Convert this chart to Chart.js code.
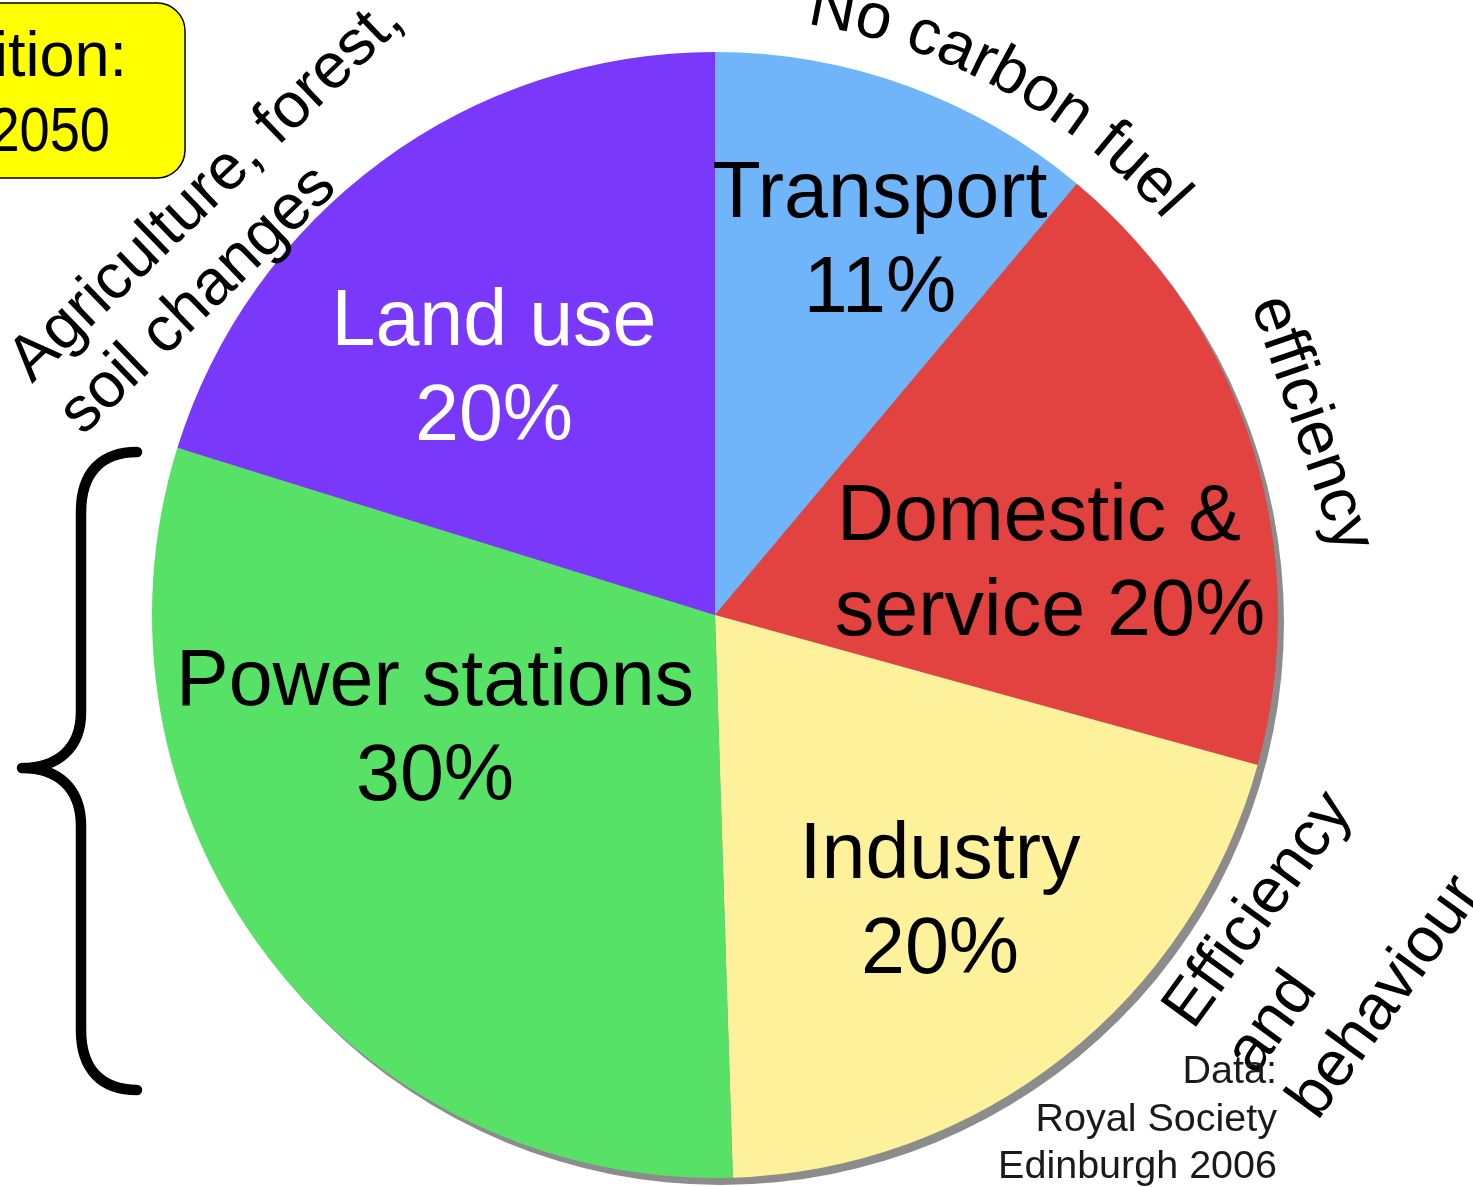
<!DOCTYPE html>
<html>
<head>
<meta charset="utf-8">
<script src="https://cdn.jsdelivr.net/npm/chart.js@4.4.1/dist/chart.umd.min.js"></script>
<style>
  html, body { margin: 0; padding: 0; background: #fff; overflow: hidden; }
  canvas { display: block; }
</style>
</head>
<body>
<canvas id="grafico" width="1473" height="1187"></canvas>
<script>
// Sectores del gráfico (en el orden de las agujas del reloj desde arriba)
const sectores = ['Transport', 'Domestic & service', 'Industry', 'Power stations', 'Land use'];
// Tamaño de cada porción tal como está dibujada
const porciones = [11, 18, 20, 30, 20];
// Textos de porcentaje que aparecen en cada porción
const porcentajes = ['11%', '20%', '20%', '30%', '20%'];
const colores = ['#70b4f9', '#e24341', '#fdf19b', '#58e167', '#7a39fa'];

const fuente = '"Liberation Sans", Arial, sans-serif';

// Etiquetas dentro de cada porción: líneas, desplazamiento respecto al centro, color
const etiquetasInternas = [
    { lineas: ['Transport', porcentajes[0]], dx: 165, dy: -398, color: '#000' },
    { lineas: ['Domestic &', 'service ' + porcentajes[1]], dx: 330, dy: -75, color: '#000', cx: [324, 335] },
    { lineas: ['Industry', porcentajes[2]], dx: 225, dy: 263, color: '#000' },
    { lineas: ['Power stations', porcentajes[3]], dx: -280, dy: 90, color: '#000' },
    { lineas: ['Land use', porcentajes[4]], dx: -221, dy: -270, color: '#fff' }
];

// Dibuja texto a lo largo de un arco (ángulo medido desde arriba, sentido horario)
function textoCurvo(ctx, texto, cx, cy, radio, anguloInicio) {
    let ang = anguloInicio * Math.PI / 180;
    for (const ch of texto) {
        const w = ctx.measureText(ch).width;
        const a = ang + (w / 2) / radio;
        ctx.save();
        ctx.translate(cx, cy);
        ctx.rotate(a);
        ctx.fillText(ch, 0, -radio);
        ctx.restore();
        ang += w / radio;
    }
}

// Texto recto girado, varias líneas alineadas a la izquierda
function textoGirado(ctx, lineas, x, y, grados, interlineado) {
    ctx.save();
    ctx.translate(x, y);
    ctx.rotate(grados * Math.PI / 180);
    ctx.textAlign = 'left';
    lineas.forEach((l, i) => ctx.fillText(l, 0, i * interlineado));
    ctx.restore();
}

const pluginDecoracion = {
    id: 'decoracion',
    beforeDatasetsDraw(chart) {
        // Sombra gris del círculo
        const arco = chart.getDatasetMeta(0).data[0];
        const ctx = chart.ctx;
        ctx.save();
        ctx.fillStyle = '#8c8c8c';
        ctx.beginPath();
        ctx.arc(arco.x + 6, arco.y + 7, arco.outerRadius, 0, Math.PI * 2);
        ctx.fill();
        ctx.restore();
    },
    afterDatasetsDraw(chart) {
        const ctx = chart.ctx;
        const arco = chart.getDatasetMeta(0).data[0];
        const cx = arco.x, cy = arco.y;

        // Etiquetas internas
        ctx.save();
        ctx.font = '79px ' + fuente;
        ctx.textAlign = 'center';
        ctx.textBaseline = 'alphabetic';
        etiquetasInternas.forEach(et => {
            ctx.fillStyle = et.color;
            et.lineas.forEach((l, i) => {
                const dx = et.cx ? et.cx[i] : et.dx;
                ctx.fillText(l, cx + dx, cy + et.dy + i * 95);
            });
        });
        ctx.restore();

        // Textos exteriores
        ctx.save();
        ctx.fillStyle = '#000';
        ctx.textBaseline = 'alphabetic';
        ctx.font = '64px ' + fuente;
        ctx.textAlign = 'center';
        textoCurvo(ctx, 'No carbon fuel', cx, cy, 598, 8.8);
        textoGirado(ctx, ['efficiency'], 1251, 304, 71, 72);
        textoGirado(ctx, ['Efficiency', 'and', 'behaviour'], 1193, 1031, -54, 77);
        ctx.font = '64px ' + fuente;
        textoGirado(ctx, ['Agriculture, forest,', 'soil changes'], 32, 384, -44, 73);
        ctx.restore();

        // Nota de la fuente de datos
        ctx.save();
        ctx.fillStyle = '#1a1a1a';
        ctx.font = '39.5px ' + fuente;
        ctx.textAlign = 'right';
        ctx.fillText('Data:', 1277, 1083);
        ctx.fillText('Royal Society', 1277, 1131);
        ctx.fillText('Edinburgh 2006', 1277, 1178);
        ctx.restore();

        // Caja amarilla (recortada por el borde izquierdo)
        ctx.save();
        ctx.fillStyle = '#ffff00';
        ctx.strokeStyle = '#000';
        ctx.lineWidth = 1.5;
        ctx.beginPath();
        ctx.roundRect(-40, 3, 225, 175, 28);
        ctx.fill();
        ctx.stroke();
        ctx.fillStyle = '#000';
        ctx.font = '63px ' + fuente;
        ctx.textAlign = 'right';
        ctx.fillText('ition:', 127, 76);
        ctx.translate(110, 151);
        ctx.scale(0.86, 1);
        ctx.fillText('2050', 0, 0);
        ctx.restore();

        // Llave izquierda
        ctx.save();
        ctx.strokeStyle = '#000';
        ctx.lineWidth = 10.5;
        ctx.lineCap = 'round';
        ctx.lineJoin = 'round';
        ctx.beginPath();
        ctx.moveTo(137, 452);
        ctx.bezierCurveTo(102, 452, 81, 472, 81, 512);
        ctx.lineTo(81, 712);
        ctx.bezierCurveTo(81, 748, 58, 768, 22, 768);
        ctx.bezierCurveTo(58, 768, 81, 788, 81, 826);
        ctx.lineTo(81, 1030);
        ctx.bezierCurveTo(81, 1070, 102, 1090, 137, 1090);
        ctx.stroke();
        ctx.restore();
    }
};

new Chart(document.getElementById('grafico'), {
    type: 'pie',
    data: {
        labels: sectores,
        datasets: [{
            data: porciones,
            backgroundColor: colores,
            borderWidth: 0,
            offset: 0,
            hoverOffset: 0
        }]
    },
    options: {
        responsive: false,
        animation: false,
        events: [],
        layout: { padding: { top: 52, bottom: 9, left: 152, right: 195 } },
        plugins: {
            legend: { display: false },
            tooltip: { enabled: false },
            title: { display: false }
        }
    },
    plugins: [pluginDecoracion]
});
</script>
</body>
</html>
